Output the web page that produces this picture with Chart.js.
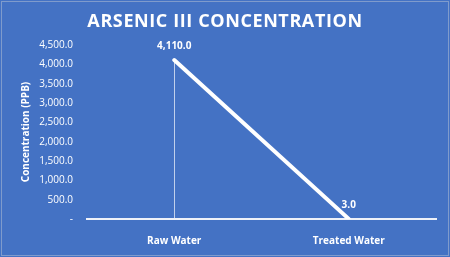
<!DOCTYPE html>
<html>
<head>
<meta charset="utf-8">
<script src="https://cdn.jsdelivr.net/npm/chart.js@4.4.1/dist/chart.umd.min.js"></script>
<style>
  html, body { margin: 0; padding: 0; background: #4472c4; }
  #wrap { width: 450px; height: 257px; }
</style>
</head>
<body>
<div id="wrap"><canvas id="myChart" width="450" height="257"></canvas></div>
<script>
// data
var categories = ['Raw Water', 'Treated Water'];
var concentration = [4110, 3];
var yTicks = [0, 500, 1000, 1500, 2000, 2500, 3000, 3500, 4000, 4500];
var chartTitle = 'ARSENIC III CONCENTRATION';

var BG = '#4472c4';
var WHITE = '#ffffff';
var FONT = "'Open Sans', 'Noto Sans', sans-serif";

function fmt(v) {
    return v.toLocaleString('en-US', { minimumFractionDigits: 1, maximumFractionDigits: 1 });
}

// background, frame, title, drop lines and value labels
var extras = {
    id: 'extras',
    beforeDraw: function (chart) {
        var c = chart.ctx;
        c.save();
        c.fillStyle = BG;
        c.fillRect(0, 0, chart.width, chart.height);
        c.strokeStyle = 'rgba(217,217,217,0.4)';
        c.lineWidth = 1;
        c.strokeRect(1.5, 1.5, chart.width - 3, chart.height - 3);
        c.fillStyle = WHITE;
        c.font = 'bold 18px ' + FONT;
        c.textAlign = 'center';
        c.textBaseline = 'middle';
        if ('letterSpacing' in c) c.letterSpacing = '0.6px';
        c.fillText(chartTitle, 225, 22);
        c.restore();
    },
    beforeDatasetsDraw: function (chart) {
        var c = chart.ctx;
        var meta = chart.getDatasetMeta(0);
        var yScale = chart.scales.y;
        c.save();
        c.strokeStyle = 'rgba(235,240,250,0.75)';
        c.lineWidth = 1;
        meta.data.forEach(function (pt) {
            c.beginPath();
            c.moveTo(Math.round(pt.x) + 0.5, pt.y);
            c.lineTo(Math.round(pt.x) + 0.5, yScale.getPixelForValue(0));
            c.stroke();
        });
        c.restore();
    },
    afterDatasetsDraw: function (chart) {
        var c = chart.ctx;
        var meta = chart.getDatasetMeta(0);
        c.save();
        c.fillStyle = WHITE;
        c.font = 'bold 10px ' + FONT;
        c.textAlign = 'center';
        c.textBaseline = 'middle';
        meta.data.forEach(function (pt, i) {
            c.fillText(fmt(concentration[i]), pt.x, pt.y - 14);
        });
        c.restore();
    }
};

var ctx2 = document.getElementById('myChart').getContext('2d');
var chart = new Chart(ctx2, {
    type: 'line',
    data: {
        labels: categories,
        datasets: [{
            label: 'Arsenic III',
            data: concentration,
            borderColor: WHITE,
            borderWidth: 4,
            borderCapStyle: 'round',
            pointRadius: 0,
            tension: 0
        }]
    },
    options: {
        responsive: false,
        animation: false,
        devicePixelRatio: 1,
        layout: { padding: { left: 0, right: 14, top: 45, bottom: 0 } },
        plugins: {
            legend: { display: false },
            tooltip: { enabled: false },
            title: { display: false }
        },
        scales: {
            x: {
                offset: true,
                grid: { display: false },
                border: { display: true, color: '#eef1f8', width: 2 },
                afterFit: function (axis) { axis.height = 38; },
                ticks: {
                    color: WHITE,
                    padding: 8,
                    font: { family: FONT, size: 10, weight: 'bold' }
                }
            },
            y: {
                min: 0,
                max: 4500,
                afterBuildTicks: function (axis) {
                    axis.ticks = yTicks.map(function (v) { return { value: v }; });
                },
                afterFit: function (axis) { axis.width = 87; },
                grid: { display: false },
                border: { display: false },
                ticks: {
                    color: WHITE,
                    padding: 6,
                    font: { family: FONT, size: 10 },
                    callback: function (v) { return v === 0 ? '-' : fmt(v); }
                },
                title: {
                    display: true,
                    text: 'Concentration (PPB)',
                    color: WHITE,
                    padding: { top: 20, bottom: 0 },
                    font: { family: FONT, size: 10, weight: 'bold' }
                }
            }
        }
    },
    plugins: [extras]
});
</script>
</body>
</html>
